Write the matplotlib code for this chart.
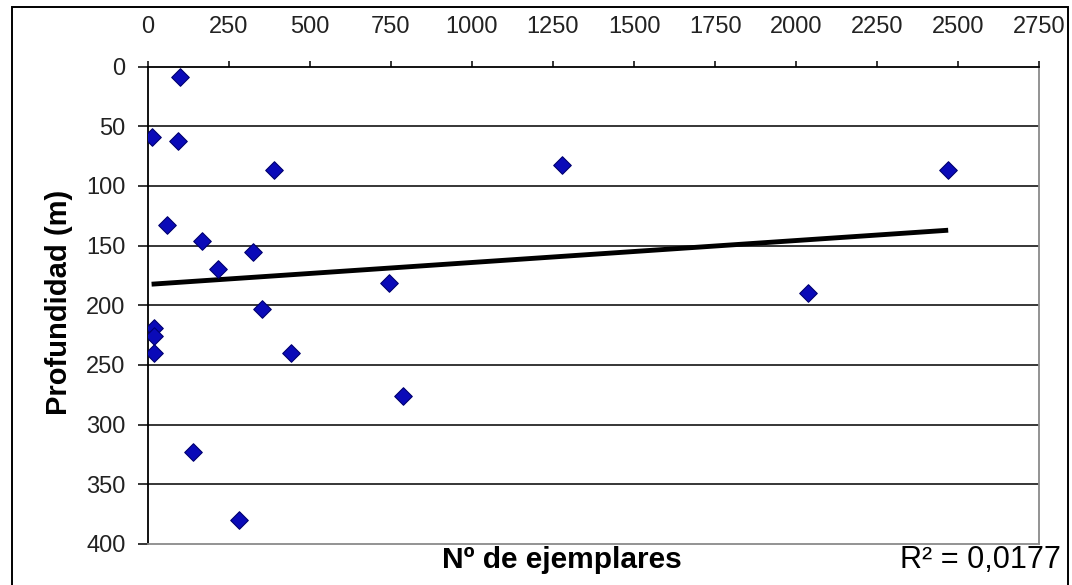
import numpy as np
import matplotlib
matplotlib.use("Agg")
import matplotlib.pyplot as plt
from matplotlib.patches import Rectangle

# ---- data ----
ejemplares = [100, 12, 93, 390, 59, 169, 326, 217, 743, 1278,
              2469, 2036, 353, 18, 18, 18, 441, 787, 140, 283]
profundidad = [9, 59, 62, 87, 133, 146, 155, 170, 181, 82,
               87, 190, 203, 219, 226, 240, 240, 276, 323, 380]
x_ticks = [0, 250, 500, 750, 1000, 1250, 1500, 1750, 2000, 2250, 2500, 2750]
y_ticks = [0, 50, 100, 150, 200, 250, 300, 350, 400]
r2_value = "0,0177"
x_label = "Nº de ejemplares"
y_label = "Profundidad (m)"

plt.rcParams['font.family'] = ['Liberation Sans', 'DejaVu Sans']

W, H = 1072, 585
fig = plt.figure(figsize=(W / 100, H / 100), dpi=100)
fig.patch.set_facecolor('white')

# plot area in pixel coordinates
L, R, T, B = 147.7, 1039.3, 66.7, 543.8
ax = fig.add_axes([L / W, 1 - B / H, (R - L) / W, (B - T) / H])

x = np.array(ejemplares, dtype=float)
y = np.array(profundidad, dtype=float)

# horizontal gridlines
for v in y_ticks[1:-1]:
    ax.axhline(v, color='black', lw=1.1, zorder=1)

# trendline (least squares)
slope, intercept = np.polyfit(x, y, 1)
xt = np.array([x.min(), x.max()])
ax.plot(xt, slope * xt + intercept, color='black', lw=3.5, zorder=2,
        solid_capstyle='butt')

ax.scatter(x, y, marker='D', s=80, facecolor='#0a0ab8', edgecolor='#000070',
           linewidths=0.8, zorder=3)

ax.set_xlim(0, 2750)
ax.set_ylim(400, 0)
ax.set_xticks(x_ticks)
ax.set_yticks(y_ticks)
ax.xaxis.tick_top()
ax.tick_params(axis='x', direction='out', length=4, width=1.1, pad=17,
               labelsize=17, colors='black', labelcolor='#222222')
ax.tick_params(axis='y', direction='out', length=7, width=1.1, pad=9,
               labelsize=17, colors='black', labelcolor='#222222')

for side in ['top', 'left']:
    ax.spines[side].set_color('black')
    ax.spines[side].set_linewidth(1.3)
for side in ['bottom', 'right']:
    ax.spines[side].set_color('#8a8a8a')
    ax.spines[side].set_linewidth(1.3)

ax.set_ylabel(y_label, fontsize=21, fontweight='bold')
ax.yaxis.set_label_coords(-0.084, 0.505)

fig.text(562 / W, 1 - 560 / H, x_label, fontsize=21.5, fontweight='bold',
         ha='center', va='center')
fig.text(1061 / W, 1 - 560 / H, "R² = " + r2_value, fontsize=22,
         ha='right', va='center')

# outer chart border
fig.patches.append(Rectangle((11.5 / W, -0.02), (1067.5 - 11.5) / W,
                             1 - 6.7 / H + 0.02, transform=fig.transFigure,
                             fill=False, edgecolor='black', lw=1.4))

fig.savefig('out.png', dpi=100)
